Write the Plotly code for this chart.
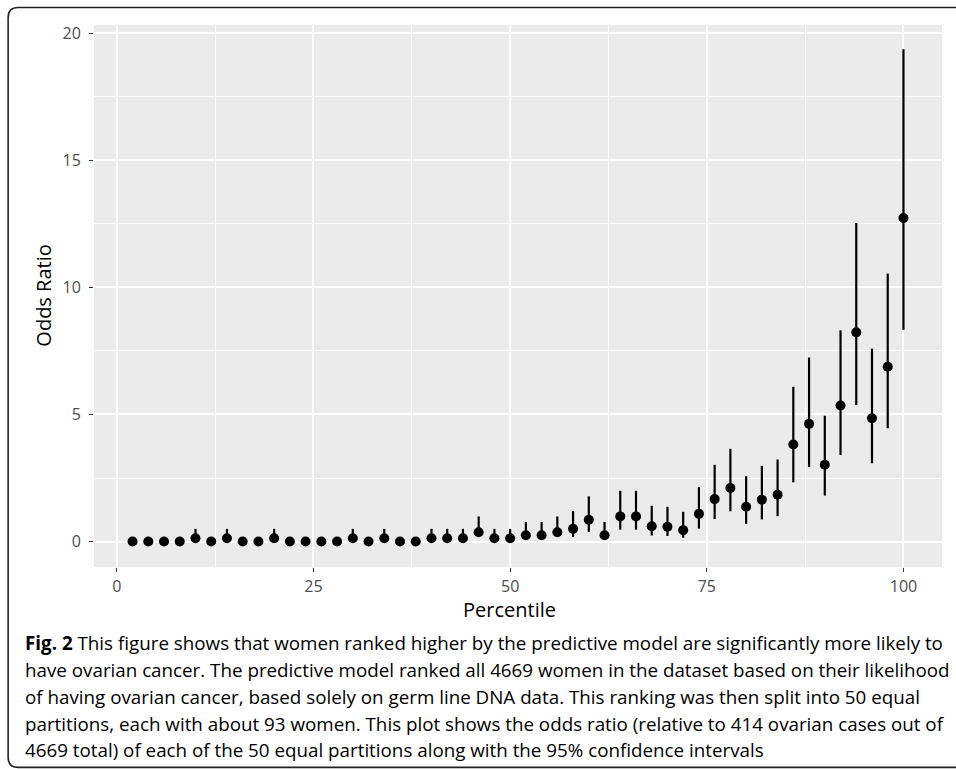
import plotly.graph_objects as go

# ---- data ----
percentile = [2, 4, 6, 8, 10, 12, 14, 16, 18, 20,
              22, 24, 26, 28, 30, 32, 34, 36, 38, 40,
              42, 44, 46, 48, 50, 52, 54, 56, 58, 60,
              62, 64, 66, 68, 70, 72, 74, 76, 78, 80,
              82, 84, 86, 88, 90, 92, 94, 96, 98, 100]
odds_ratio = [0, 0, 0, 0, 0.13, 0, 0.13, 0, 0, 0.13,
              0, 0, 0, 0, 0.13, 0, 0.13, 0, 0, 0.13,
              0.13, 0.13, 0.37, 0.13, 0.13, 0.25, 0.25, 0.37, 0.5, 0.86,
              0.25, 0.99, 0.99, 0.6, 0.58, 0.45, 1.09, 1.67, 2.11, 1.37,
              1.65, 1.84, 3.82, 4.63, 3.02, 5.35, 8.23, 4.85, 6.88, 12.73]
ci_upper = [0, 0, 0, 0, 0.5, 0, 0.5, 0, 0, 0.5,
            0, 0, 0, 0, 0.5, 0, 0.5, 0, 0, 0.5,
            0.5, 0.5, 0.99, 0.5, 0.5, 0.77, 0.77, 0.99, 1.2, 1.78,
            0.77, 2.0, 2.0, 1.41, 1.37, 1.17, 2.14, 3.02, 3.65, 2.57,
            2.98, 3.23, 6.09, 7.24, 4.95, 8.31, 12.53, 7.59, 10.54, 19.37]
ci_lower = [0, 0, 0, 0, 0.02, 0, 0.02, 0, 0, 0.02,
            0, 0, 0, 0, 0.02, 0, 0.02, 0, 0, 0.02,
            0.02, 0.02, 0.18, 0.02, 0.02, 0.07, 0.07, 0.18, 0.18, 0.38,
            0.07, 0.47, 0.47, 0.24, 0.22, 0.15, 0.51, 0.89, 1.19, 0.7,
            0.87, 1.0, 2.33, 2.93, 1.81, 3.41, 5.37, 3.08, 4.46, 8.33]
x_ticks = [0, 25, 50, 75, 100]
y_ticks = [0, 5, 10, 15, 20]
x_title = "Percentile"
y_title = "Odds Ratio"
caption_lines = [
    "<b>Fig. 2</b> This figure shows that women ranked higher by the predictive model are significantly more likely to",
    "have ovarian cancer. The predictive model ranked all 4669 women in the dataset based on their likelihood",
    "of having ovarian cancer, based solely on germ line DNA data. This ranking was then split into 50 equal",
    "partitions, each with about 93 women. This plot shows the odds ratio (relative to 414 ovarian cases out of",
    "4669 total) of each of the 50 equal partitions along with the 95% confidence intervals",
]

# ---- layout geometry (pixels) ----
W, H = 956, 769
L, R, T, B = 94.3, 941.7, 25.0, 566.7
PW, PH = R - L, B - T


def xp(px):
    return (px - L) / PW


def yp(py):
    return (B - py) / PH


err_plus = [u - o for u, o in zip(ci_upper, odds_ratio)]
err_minus = [o - l for o, l in zip(odds_ratio, ci_lower)]

FONT = "Open Sans"

fig = go.Figure()
fig.add_trace(go.Scatter(
    x=percentile, y=odds_ratio, mode="markers",
    marker=dict(color="black", size=10, line=dict(width=0)),
    error_y=dict(type="data", symmetric=False, array=err_plus,
                 arrayminus=err_minus, width=0, thickness=2.2, color="black"),
    showlegend=False, hoverinfo="x+y",
))

axis_common = dict(
    showgrid=True, gridcolor="white", gridwidth=1.6,
    zeroline=False, showline=False,
    ticks="outside", ticklen=4, tickwidth=1.4, tickcolor="#333333",
    tickfont=dict(family=FONT, size=16, color="#4D4D4D"),
)

fig.update_layout(
    width=W, height=H,
    margin=dict(l=L, r=W - R, t=T, b=H - B, pad=0),
    paper_bgcolor="white", plot_bgcolor="#EBEBEB",
    xaxis=dict(range=[-2.9, 104.9], tickvals=x_ticks, ticklabelstandoff=1,
               minor=dict(tickvals=[12.5, 37.5, 62.5, 87.5], showgrid=True,
                          gridcolor="white", gridwidth=0.8, ticks=""),
               **axis_common),
    yaxis=dict(range=[-1.0, 20.32], tickvals=y_ticks, ticklabelstandoff=5,
               minor=dict(tickvals=[2.5, 7.5, 12.5, 17.5], showgrid=True,
                          gridcolor="white", gridwidth=0.8, ticks=""),
               **axis_common),
)

annotations = [
    dict(text=x_title, x=xp(510), y=yp(609), xref="paper", yref="paper",
         xanchor="center", yanchor="middle", showarrow=False,
         font=dict(family=FONT, size=20, color="black")),
    dict(text=y_title, x=xp(43), y=yp((T + B) / 2), xref="paper", yref="paper",
         xanchor="center", yanchor="middle", showarrow=False, textangle=-90,
         font=dict(family=FONT, size=20, color="black")),
]
line_y = [643, 670, 697, 723.5, 750]
for txt, ly in zip(caption_lines, line_y):
    annotations.append(dict(text=txt, x=xp(23), y=yp(ly), xref="paper", yref="paper",
                            xanchor="left", yanchor="middle", showarrow=False,
                            font=dict(family=FONT, size=18.8, color="black")))
fig.update_layout(annotations=annotations)

# rounded frame open on the right side
r = 10
lx, ty, by, rx = 8.5, 7.5, 767.0, 975.0
path = (f"M {xp(rx)} {yp(ty)} L {xp(lx + r)} {yp(ty)} "
        f"Q {xp(lx)} {yp(ty)} {xp(lx)} {yp(ty + r)} "
        f"L {xp(lx)} {yp(by - r)} "
        f"Q {xp(lx)} {yp(by)} {xp(lx + r)} {yp(by)} "
        f"L {xp(rx)} {yp(by)}")
fig.add_shape(type="path", path=path, xref="paper", yref="paper",
              line=dict(color="#222222", width=1.6), layer="above")

fig.write_html("out.html")
